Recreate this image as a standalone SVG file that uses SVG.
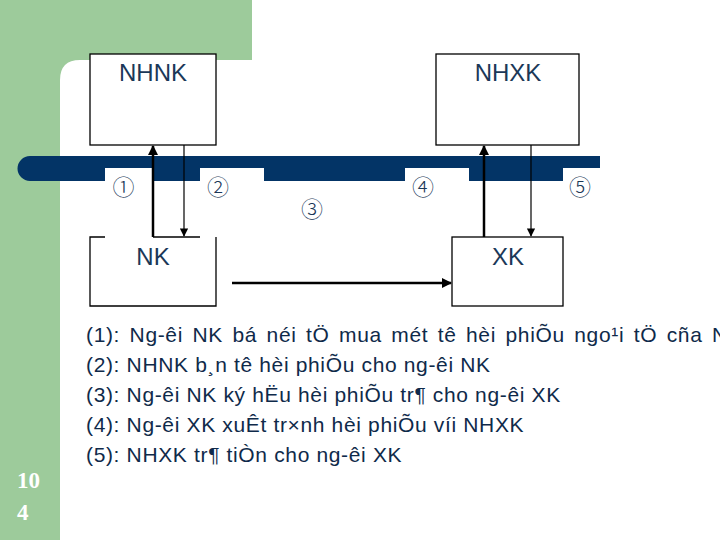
<svg xmlns="http://www.w3.org/2000/svg" width="720" height="540" viewBox="0 0 720 540">
<style>
.box{fill:#fff;stroke:#000;stroke-width:1.3}
.lbl{font-family:"Liberation Sans",Arial,sans-serif;font-size:24px;fill:#1b3858;text-anchor:middle}
.num{font-family:"DejaVu Sans","Noto Sans CJK SC",sans-serif;font-size:22px;font-weight:300;fill:#1b3858;text-anchor:middle}
.txt{font-family:"Liberation Sans",Arial,sans-serif;font-size:21px;letter-spacing:0.65px;fill:#0f2a4a}
.thick{stroke:#000;stroke-width:2.5;fill:none}
.thin{stroke:#000;stroke-width:1.2;fill:none}
</style>
<defs>
<marker id="ah" viewBox="0 0 10 10" refX="9" refY="5" markerWidth="4" markerHeight="4" orient="auto" markerUnits="strokeWidth"><path d="M0,0 L10,5 L0,10 z" fill="#000"/></marker>
<marker id="ahs" viewBox="0 0 10 10" refX="9" refY="5" markerWidth="7" markerHeight="7" orient="auto" markerUnits="strokeWidth"><path d="M0,0 L10,5 L0,10 z" fill="#000"/></marker>
</defs>
<rect width="720" height="540" fill="#fff"/>
<g id="background">
<path d="M0,0 H252 V60 H80 Q60,60 60,80 V540 H0 Z" fill="#9dcb9b"/>
<path d="M30,156 H600 V168 H563 V181 H469 V168 H405 V181 H264 V168 H200 V181 H152 V168 H105 V181 H30 A12.5,12.5 0 0 1 30,156 Z" fill="#033466"/>
<text x="17" y="488" font-family="Liberation Serif,serif" font-weight="bold" font-size="23" fill="#fff">10</text>
<text x="17" y="520" font-family="Liberation Serif,serif" font-weight="bold" font-size="23" fill="#fff">4</text>
</g>
<g id="NHNK">
<rect class="box" x="90" y="54" width="126" height="91"/>
<text class="lbl" x="153" y="81">NHNK</text>
</g>
<g id="NHXK">
<rect class="box" x="436" y="54" width="143" height="91"/>
<text class="lbl" x="508" y="81">NHXK</text>
</g>
<g id="NK">
<path d="M105,237 H90 V306 H216 V237" fill="none" stroke="#000" stroke-width="1.3"/>
<path d="M153,237 H200" fill="none" stroke="#000" stroke-width="1.3"/>
<text class="lbl" x="153" y="265">NK</text>
</g>
<g id="XK">
<rect class="box" x="452" y="237" width="111" height="69"/>
<text class="lbl" x="508" y="265">XK</text>
</g>
<g id="connectors">
<line class="thick" x1="153" y1="237" x2="153" y2="146" marker-end="url(#ah)"/>
<line class="thin" x1="184" y1="145" x2="184" y2="236" marker-end="url(#ahs)"/>
<line class="thick" x1="484" y1="237" x2="484" y2="146" marker-end="url(#ah)"/>
<line class="thin" x1="531" y1="145" x2="531" y2="236" marker-end="url(#ahs)"/>
<line class="thick" x1="232" y1="283" x2="451" y2="283" marker-end="url(#ah)"/>
</g>
<g id="labels">
<text class="num" x="123.5" y="195">①</text>
<text class="num" x="218" y="194.5">②</text>
<text class="num" x="312" y="216.5">③</text>
<text class="num" x="423" y="194.5">④</text>
<text class="num" x="580" y="194.5">⑤</text>
</g>
<g id="legend">
<text class="txt" x="86" y="342" word-spacing="3">(1): Ng-êi NK bá néi tÖ mua mét tê hèi phiÕu ngo¹i tÖ cña N</text>
<text class="txt" x="86" y="372">(2): NHNK b¸n tê hèi phiÕu cho ng-êi NK</text>
<text class="txt" x="86" y="402">(3): Ng-êi NK ký hËu hèi phiÕu tr¶ cho ng-êi XK</text>
<text class="txt" x="86" y="432">(4): Ng-êi XK xuÊt tr×nh hèi phiÕu víi NHXK</text>
<text class="txt" x="86" y="462">(5): NHXK tr¶ tiÒn cho ng-êi XK</text>
</g>
</svg>
